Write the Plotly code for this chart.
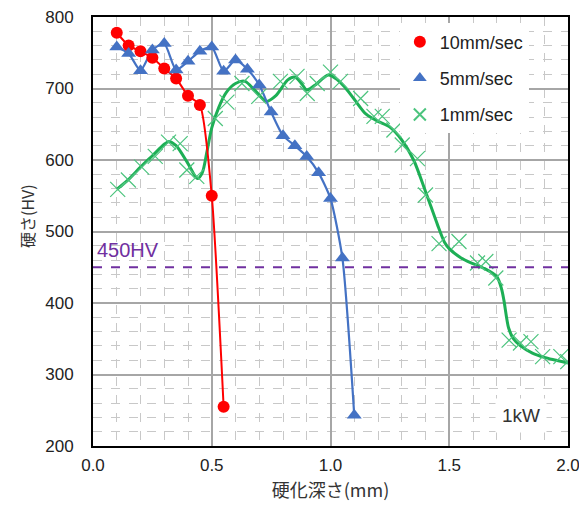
import plotly.graph_objects as go

# 10mm/sec
red_x = [0.10, 0.15, 0.20, 0.25, 0.30, 0.35, 0.40, 0.45, 0.50, 0.55]
red_y = [778, 760, 752, 743, 728, 714, 690, 677, 550, 255]

# 5mm/sec
blue_x = [0.10, 0.15, 0.20, 0.25, 0.30, 0.35, 0.40, 0.45, 0.50, 0.55, 0.60,
          0.65, 0.70, 0.75, 0.80, 0.85, 0.90, 0.95, 1.00, 1.05, 1.10]
blue_y = [758, 749, 725, 754, 763, 726, 738, 752, 758, 724, 740,
          727, 705, 667, 634, 620, 605, 582, 546, 463, 243]

# 1mm/sec measured points
green_x = [0.104, 0.149, 0.205, 0.262, 0.318, 0.367, 0.395, 0.437, 0.515, 0.564,
           0.627, 0.698, 0.789, 0.859, 0.902, 0.944, 1.000, 1.042, 1.127, 1.183,
           1.218, 1.267, 1.302, 1.366, 1.400, 1.457, 1.541, 1.619, 1.654, 1.696,
           1.752, 1.800, 1.844, 1.893, 1.970, 1.999]
green_y = [559, 572, 590, 605, 625, 623, 586, 577, 658, 681,
           707, 689, 710, 717, 693, 707, 723, 710, 686, 661,
           661, 642, 621, 602, 551, 483, 486, 456, 458, 435,
           348, 344, 346, 325, 325, 318]

# 1mm/sec smoothed curve
curve_x = [0.10, 0.15, 0.20, 0.25, 0.30, 0.32, 0.35, 0.40, 0.44, 0.46, 0.48, 0.50,
           0.53, 0.56, 0.60, 0.64, 0.68, 0.73, 0.77, 0.82, 0.85, 0.88, 0.90, 0.94,
           0.99, 1.03, 1.06, 1.10, 1.15, 1.20, 1.25, 1.30, 1.35, 1.40, 1.45, 1.48,
           1.50, 1.55, 1.60, 1.65, 1.70, 1.72, 1.73, 1.75, 1.77, 1.80, 1.85, 1.90,
           1.95, 2.00]
curve_y = [559, 573, 590, 606, 622, 626, 620, 595, 574, 582, 612, 645,
           674, 694, 707, 710, 698, 682, 690, 712, 716, 706, 698, 706,
           719, 712, 702, 685, 664, 654, 646, 628, 600, 556, 510, 485,
           476, 463, 455, 448, 437, 420, 404, 365, 350, 340, 330, 324,
           320, 316]

threshold = 450

RED = "#FF0000"
BLUE = "#4472C4"
GREEN = "#1DAF55"
GREEN_M = "#4CC47E"
PURPLE = "#7030A0"

TXT = "Liberation Sans, Arial"
CJK = "Noto Sans CJK JP"

fig = go.Figure()

# lines (no legend)
fig.add_trace(go.Scatter(x=curve_x, y=curve_y, mode="lines",
                         line=dict(color=GREEN, width=3, shape="spline", smoothing=0.8),
                         showlegend=False, hoverinfo="skip"))
fig.add_trace(go.Scatter(x=blue_x, y=blue_y, mode="lines",
                         line=dict(color=BLUE, width=2.2, shape="spline", smoothing=0.6),
                         showlegend=False, hoverinfo="skip"))
fig.add_trace(go.Scatter(x=red_x, y=red_y, mode="lines",
                         line=dict(color=RED, width=2, shape="spline", smoothing=0.6),
                         showlegend=False, hoverinfo="skip"))

# markers (legend)
fig.add_trace(go.Scatter(x=red_x, y=red_y, mode="markers", name="10mm/sec",
                         legendgroup="a",
                         marker=dict(symbol="circle", size=12, color=RED)))
fig.add_trace(go.Scatter(x=blue_x, y=blue_y, mode="markers", name="5mm/sec",
                         legendgroup="b",
                         marker=dict(symbol="triangle-up", size=13, color=BLUE)))
fig.add_trace(go.Scatter(x=green_x, y=green_y, mode="markers", name="1mm/sec",
                         legendgroup="c",
                         marker=dict(symbol="x-thin", size=15,
                                     line=dict(color=GREEN_M, width=1.2))))

# threshold line
fig.add_trace(go.Scatter(x=[0, 2.0], y=[threshold, threshold], mode="lines",
                         line=dict(color=PURPLE, width=2, dash="dash"),
                         showlegend=False, hoverinfo="skip"))

fig.add_annotation(x=0.01, y=threshold + 6, xref="x", yref="y", text="450HV",
                   showarrow=False, xanchor="left", yanchor="bottom",
                   font=dict(family=TXT, size=20, color=PURPLE))
fig.add_annotation(x=1.80, y=242, xref="x", yref="y", text="1kW",
                   showarrow=False, bgcolor="white", borderpad=6,
                   font=dict(family=TXT, size=19, color="#333333"))
fig.add_annotation(x=-0.139, y=0.536, xref="paper", yref="paper", text="硬さ(HV)",
                   textangle=-90, showarrow=False, xanchor="center", yanchor="middle",
                   font=dict(family=CJK, size=16, color="#333333"))

grid_major = "#A6A6A6"
grid_minor = "#C8C8C8"

fig.update_xaxes(range=[0, 2.0], dtick=0.5, tick0=0, tickformat=".1f",
                 showgrid=True, gridcolor=grid_major, gridwidth=2,
                 minor=dict(dtick=0.1, showgrid=True, gridcolor=grid_minor,
                            griddash="dash", gridwidth=1),
                 showline=True, linecolor="black", linewidth=2, mirror=True,
                 zeroline=False, ticks="", ticklabelstandoff=3, automargin=False,
                 ticklabeloverflow="allow",
                 title=dict(text="硬化深さ(mm)", standoff=10,
                            font=dict(family=CJK, size=18, color="#333333")),
                 tickfont=dict(family=TXT, size=17, color="#222222"))
fig.update_yaxes(range=[200, 800], dtick=100, tick0=200,
                 showgrid=True, gridcolor=grid_major, gridwidth=2,
                 minor=dict(dtick=20, showgrid=True, gridcolor=grid_minor,
                            griddash="dash", gridwidth=1),
                 showline=True, linecolor="black", linewidth=2, mirror=True,
                 zeroline=False, ticks="", ticklabelstandoff=14, automargin=False,
                 ticklabeloverflow="allow",
                 tickfont=dict(family=TXT, size=17, color="#222222"))

fig.update_layout(
    width=579, height=501,
    margin=dict(l=85, r=19, t=9, b=63, autoexpand=False),
    paper_bgcolor="white", plot_bgcolor="white",
    legend=dict(x=0.646, y=0.985, xanchor="left", yanchor="top",
                bgcolor="white", borderwidth=0,
                font=dict(family=TXT, size=18, color="#222222"),
                itemsizing="constant", tracegroupgap=10),
)

fig.write_html("out.html")
